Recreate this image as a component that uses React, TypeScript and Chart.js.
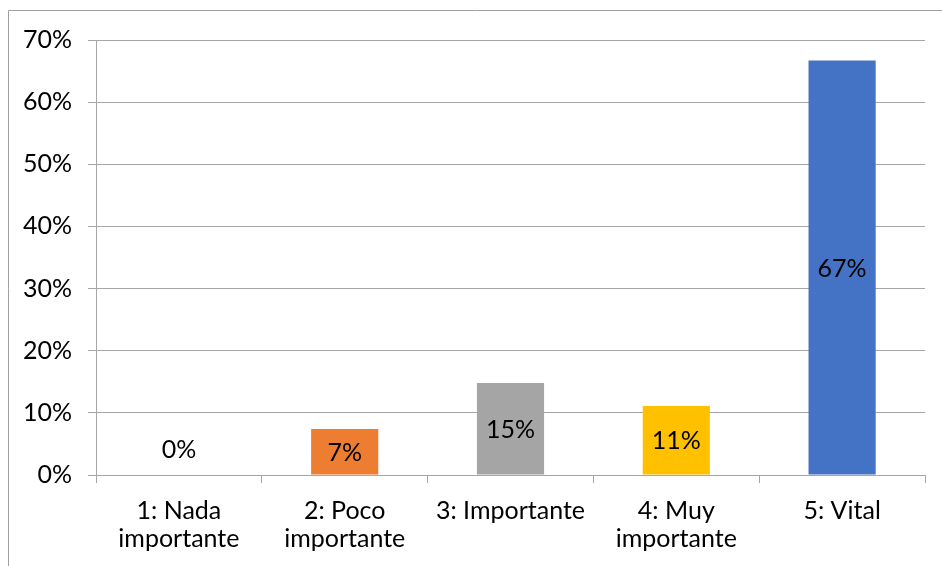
import React, { useEffect, useRef } from "react";
import { Chart, registerables } from "chart.js";

Chart.register(...registerables);

const categories: string[][] = [
  ["1: Nada", "importante"],
  ["2: Poco", "importante"],
  ["3: Importante"],
  ["4: Muy", "importante"],
  ["5: Vital"],
];
const values: number[] = [0, 7.4, 14.8, 11.1, 66.7];
const barColors: string[] = ["#4472C4", "#ED7D31", "#A5A5A5", "#FFC000", "#4472C4"];
const yTicks: number[] = [0, 10, 20, 30, 40, 50, 60, 70];

const FONT = "Lato, 'Open Sans', sans-serif";
const FSIZE = 25;
const GRID = "#A6A6A6";

const framePlugin = {
  id: "frame",
  beforeDraw(chart: any) {
    const ctx = chart.ctx;
    ctx.save();
    ctx.strokeStyle = "#A0A0A0";
    ctx.lineWidth = 1;
    ctx.beginPath();
    ctx.moveTo(8.5, chart.height + 5);
    ctx.lineTo(8.5, 10.5);
    ctx.lineTo(chart.width + 5, 10.5);
    ctx.stroke();
    ctx.restore();
  },
};

const labelPlugin = {
  id: "barLabels",
  afterDatasetsDraw(chart: any) {
    const ctx = chart.ctx;
    const meta = chart.getDatasetMeta(0);
    ctx.save();
    ctx.font = `${FSIZE}px ${FONT}`;
    ctx.fillStyle = "#000000";
    ctx.textAlign = "center";
    ctx.textBaseline = "middle";
    meta.data.forEach((el: any, i: number) => {
      const v = values[i];
      let y = (el.y + el.base) / 2;
      if (el.base - el.y < 30) y = el.base - 26;
      ctx.fillText(`${Math.round(v)}%`, el.x, y + 1);
    });
    ctx.restore();
  },
};

export default function App() {
  const ref = useRef<HTMLCanvasElement | null>(null);
  useEffect(() => {
    if (!ref.current) return;
    const chart = new Chart(ref.current, {
      type: "bar",
      data: {
        labels: categories,
        datasets: [
          {
            data: values,
            backgroundColor: barColors,
            barPercentage: 0.405,
            categoryPercentage: 1,
          },
        ],
      },
      options: {
        animation: false,
        responsive: false,
        maintainAspectRatio: false,
        layout: { padding: { top: 40, right: 17, left: 0, bottom: 0 } },
        plugins: { legend: { display: false }, tooltip: { enabled: false } },
        scales: {
          x: {
            grid: {
              offset: true,
              drawOnChartArea: false,
              drawTicks: true,
              tickLength: 8,
              color: GRID,
            },
            border: { display: true, color: GRID },
            ticks: {
              color: "#000000",
              font: { family: FONT, size: FSIZE, lineHeight: 1.12 },
              padding: 14,
              maxRotation: 0,
              autoSkip: false,
            },
            afterFit(scale: any) {
              scale.height = 91;
            },
          },
          y: {
            min: 0,
            max: 70,
            afterBuildTicks(scale: any) {
              scale.ticks = yTicks.map((v) => ({ value: v }));
            },
            grid: { color: GRID, tickLength: 8, drawTicks: true },
            border: { display: true, color: GRID },
            ticks: {
              color: "#000000",
              font: { family: FONT, size: FSIZE },
              padding: 16,
              callback: (v: any) => `${v}%`,
            },
            afterFit(scale: any) {
              scale.width = 96;
            },
          },
        },
      },
      plugins: [framePlugin, labelPlugin],
    });
    return () => chart.destroy();
  }, []);
  return (
    <div style={{ position: "absolute", left: 0, top: 0, width: 942, height: 566, background: "#fff" }}>
      <canvas ref={ref} width={942} height={566} style={{ width: 942, height: 566 }} />
    </div>
  );
}
